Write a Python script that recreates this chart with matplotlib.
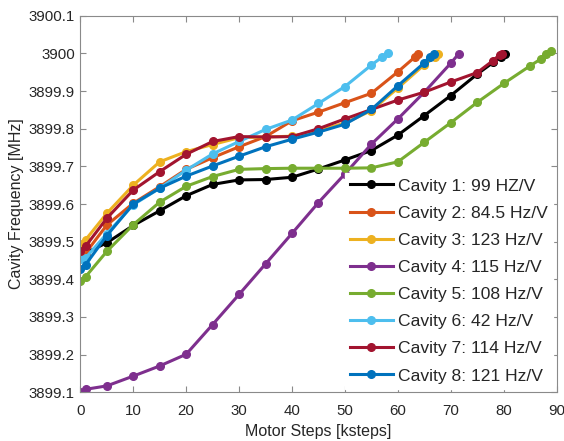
import matplotlib
matplotlib.use("Agg")
import matplotlib.pyplot as plt

plt.rcParams['font.family'] = ['Liberation Sans', 'DejaVu Sans']

labels = ["Cavity 1: 99 HZ/V", "Cavity 2: 84.5 Hz/V", "Cavity 3: 123 Hz/V",
          "Cavity 4: 115 Hz/V", "Cavity 5: 108 Hz/V", "Cavity 6: 42 Hz/V",
          "Cavity 7: 114 Hz/V", "Cavity 8: 121 Hz/V"]
colors = ["#000000", "#D95319", "#EDB120", "#7E2F8E", "#77AC30", "#4DBEEE",
          "#A2142F", "#0072BD"]

c1_x = [0, 1, 5, 10, 15, 20, 25, 30, 35, 40, 45, 50, 55, 60, 65, 70, 75, 78, 79.5, 80.3]
c1_y = [3899.46, 3899.47, 3899.497, 3899.543, 3899.582, 3899.622, 3899.652, 3899.664,
        3899.665, 3899.671, 3899.693, 3899.717, 3899.742, 3899.783, 3899.835, 3899.888,
        3899.945, 3899.976, 3899.991, 3899.998]

c2_x = [0, 1, 5, 10, 15, 20, 25, 30, 35, 40, 45, 50, 55, 60, 63.2, 63.8]
c2_y = [3899.46, 3899.47, 3899.544, 3899.602, 3899.646, 3899.692, 3899.723, 3899.752,
        3899.779, 3899.821, 3899.844, 3899.869, 3899.894, 3899.951, 3899.99, 3899.998]

c3_x = [0, 1, 5, 10, 15, 20, 25, 30, 35, 40, 45, 50, 55, 60, 65, 67, 67.6]
c3_y = [3899.493, 3899.505, 3899.575, 3899.65, 3899.712, 3899.739, 3899.758, 3899.776,
        3899.778, 3899.780, 3899.795, 3899.815, 3899.848, 3899.908, 3899.970, 3899.99,
        3899.998]

c4_x = [0, 1, 5, 10, 15, 20, 25, 30, 35, 40, 45, 50, 55, 60, 65, 70, 71.5]
c4_y = [3899.101, 3899.108, 3899.117, 3899.143, 3899.170, 3899.201, 3899.280, 3899.360,
        3899.441, 3899.522, 3899.604, 3899.680, 3899.759, 3899.826, 3899.897, 3899.974,
        3899.999]

c5_x = [0, 1, 5, 10, 15, 20, 25, 30, 35, 40, 45, 50, 55, 60, 65, 70, 75, 80, 85, 87,
        88, 89]
c5_y = [3899.395, 3899.407, 3899.474, 3899.545, 3899.605, 3899.647, 3899.673, 3899.692,
        3899.694, 3899.695, 3899.695, 3899.695, 3899.696, 3899.712, 3899.764, 3899.816,
        3899.870, 3899.920, 3899.967, 3899.985, 3899.998, 3900.005]

c6_x = [0, 1, 5, 10, 15, 20, 25, 30, 35, 40, 45, 50, 55, 57, 58.2]
c6_y = [3899.453, 3899.457, 3899.521, 3899.598, 3899.642, 3899.690, 3899.733, 3899.766,
        3899.798, 3899.823, 3899.867, 3899.912, 3899.969, 3899.99, 3900.002]

c7_x = [0, 1, 5, 10, 15, 20, 25, 30, 35, 40, 45, 50, 55, 60, 65, 70, 75, 78, 79.2, 79.7]
c7_y = [3899.474, 3899.488, 3899.562, 3899.637, 3899.686, 3899.732, 3899.766, 3899.779,
        3899.778, 3899.779, 3899.800, 3899.826, 3899.851, 3899.876, 3899.897, 3899.924,
        3899.949, 3899.981, 3899.996, 3899.999]

c8_x = [0, 1, 5, 10, 15, 20, 25, 30, 35, 40, 45, 50, 55, 60, 65, 66, 66.8]
c8_y = [3899.427, 3899.439, 3899.516, 3899.600, 3899.642, 3899.674, 3899.701, 3899.727,
        3899.752, 3899.772, 3899.791, 3899.812, 3899.851, 3899.914, 3899.975, 3899.991,
        3899.999]

xs = [c1_x, c2_x, c3_x, c4_x, c5_x, c6_x, c7_x, c8_x]
ys = [c1_y, c2_y, c3_y, c4_y, c5_y, c6_y, c7_y, c8_y]

x_ticks = [0, 10, 20, 30, 40, 50, 60, 70, 80, 90]
y_ticks = [3899.1, 3899.2, 3899.3, 3899.4, 3899.5, 3899.6, 3899.7, 3899.8, 3899.9,
           3900.0, 3900.1]
y_ticklabels = ["3899.1", "3899.2", "3899.3", "3899.4", "3899.5", "3899.6", "3899.7",
                "3899.8", "3899.9", "3900", "3900.1"]

fig = plt.figure(figsize=(5.64, 4.41), dpi=100)
ax = fig.add_axes([0.1424, 0.1104, 0.8446, 0.854])

for x, y, c, lab in zip(xs, ys, colors, labels):
    ax.plot(x, y, color=c, lw=2.2, marker='o', ms=5.5, label=lab)

ax.set_xlim(0, 90)
ax.set_ylim(3899.1, 3900.1)
ax.set_xticks(x_ticks)
ax.set_yticks(y_ticks)
ax.set_yticklabels(y_ticklabels)

axcol = '#8a8a8a'
for s in ax.spines.values():
    s.set_color(axcol)
    s.set_linewidth(0.8)
ax.tick_params(direction='in', top=True, right=True, length=4, color=axcol,
               labelsize=10.8, labelcolor='#262626', width=0.8)
ax.tick_params(axis='x', pad=8.5)
ax.tick_params(axis='y', pad=4)

ax.set_xlabel("Motor Steps [ksteps]", fontsize=11.5, color='#262626', labelpad=4)
ax.set_ylabel("Cavity Frequency [MHz]", fontsize=11.5, color='#262626', labelpad=3)

leg = ax.legend(loc='lower right', fontsize=12.6, frameon=True, fancybox=False,
                edgecolor='white', facecolor='white', framealpha=1,
                handlelength=2.45, handletextpad=0.3, labelspacing=0.68,
                borderaxespad=0.2, borderpad=0.3)
for t in leg.get_texts():
    t.set_color('#262626')

fig.savefig("out.png", dpi=100)
